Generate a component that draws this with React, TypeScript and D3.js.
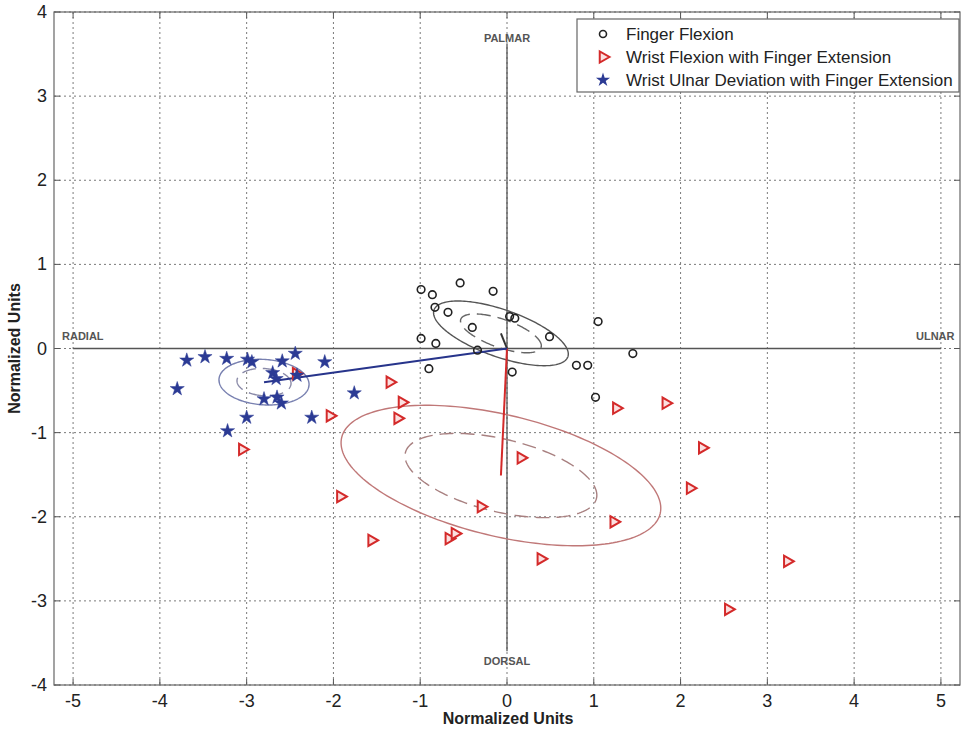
import React, { useEffect, useRef } from 'react';
import * as d3 from 'd3';

// scatter of normalized units, three grasp conditions with mean vectors + confidence ellipses

const fingerFlexion: [number, number][] = [
  [-0.99, 0.70], [-0.86, 0.64], [-0.54, 0.78], [-0.16, 0.68], [-0.83, 0.49],
  [-0.68, 0.43], [-0.40, 0.25], [0.03, 0.38], [0.09, 0.36], [0.49, 0.14],
  [1.05, 0.32], [-0.99, 0.12], [-0.82, 0.06], [-0.34, -0.02], [-0.90, -0.24],
  [0.06, -0.28], [0.80, -0.20], [0.93, -0.20], [1.45, -0.06], [1.02, -0.58]
];

const wristFlexion: [number, number][] = [
  [-3.05, -1.20], [-2.43, -0.30], [-2.04, -0.80], [-1.35, -0.40], [-1.21, -0.64],
  [-1.26, -0.83], [-1.92, -1.76], [-1.56, -2.28], [-0.67, -2.26], [-0.60, -2.20],
  [-0.30, -1.88], [0.16, -1.30], [0.39, -2.50], [1.26, -0.71], [1.83, -0.65],
  [2.25, -1.18], [2.11, -1.66], [1.23, -2.06], [3.23, -2.53], [2.55, -3.10]
];

const wristUlnar: [number, number][] = [
  [-3.69, -0.14], [-3.48, -0.10], [-3.23, -0.12], [-2.99, -0.13], [-2.94, -0.16],
  [-2.59, -0.15], [-2.44, -0.06], [-2.10, -0.16], [-3.80, -0.48], [-2.70, -0.29],
  [-2.66, -0.36], [-2.42, -0.32], [-2.80, -0.60], [-2.65, -0.58], [-2.60, -0.65],
  [-1.76, -0.53], [-3.00, -0.82], [-2.25, -0.82], [-3.22, -0.98]
];

// group means (end of vector from origin)
const groupMeans: [number, number][] = [[-0.07, 0.18], [-0.07, -1.51], [-2.80, -0.40]];
// ellipse: [semi-major, semi-minor, angle deg]
const ellipseAxes: [number, number, number][] = [[0.82, 0.28, -20], [1.89, 0.72, -14], [0.52, 0.27, -4]];
const innerRatio = 0.6;

const groupNames = ['Finger Flexion', 'Wrist Flexion with Finger Extension', 'Wrist Ulnar Deviation with Finger Extension'];
const vectorColors = ['#333333', '#d42a2a', '#27348b'];
const outerColors = ['#555555', '#c07878', '#7880b0'];
const innerColors = ['#666666', '#a88080', '#8a8aa8'];

const xTicks = [-5, -4, -3, -2, -1, 0, 1, 2, 3, 4, 5];
const yTicks = [-4, -3, -2, -1, 0, 1, 2, 3, 4];

const W = 963, H = 734;

export default function App() {
  const ref = useRef<SVGSVGElement>(null);

  useEffect(() => {
    const svg = d3.select(ref.current);
    svg.selectAll('*').remove();

    const left = 54, right = 960, top = 12, bottom = 685;
    const x = d3.scaleLinear().domain([-5.22, 5.22]).range([left, right]);
    const y = d3.scaleLinear().domain([-4, 4]).range([bottom, top]);
    const font = 'Liberation Sans, Arial, sans-serif';
    const narrow = 'Liberation Sans Narrow, Liberation Sans, Arial, sans-serif';

    svg.append('rect').attr('width', W).attr('height', H).attr('fill', '#fff');

    // grid
    const grid = svg.append('g').attr('stroke', '#7a7a7a').attr('stroke-dasharray', '2,3').attr('stroke-width', 1);
    xTicks.forEach((t) => {
      grid.append('line').attr('x1', x(t)).attr('x2', x(t)).attr('y1', top).attr('y2', bottom);
    });
    yTicks.forEach((t) => {
      grid.append('line').attr('x1', left).attr('x2', right).attr('y1', y(t)).attr('y2', y(t));
    });

    // inner ticks
    const ticks = svg.append('g').attr('stroke', '#555').attr('stroke-width', 1);
    xTicks.forEach((t) => {
      ticks.append('line').attr('x1', x(t)).attr('x2', x(t)).attr('y1', bottom).attr('y2', bottom - 6);
      ticks.append('line').attr('x1', x(t)).attr('x2', x(t)).attr('y1', top).attr('y2', top + 6);
    });
    yTicks.forEach((t) => {
      ticks.append('line').attr('x1', left).attr('x2', left + 6).attr('y1', y(t)).attr('y2', y(t));
      ticks.append('line').attr('x1', right).attr('x2', right - 6).attr('y1', y(t)).attr('y2', y(t));
    });

    // main cross axes
    svg.append('line').attr('x1', x(-5)).attr('x2', x(5)).attr('y1', y(0)).attr('y2', y(0))
      .attr('stroke', '#555').attr('stroke-width', 1.3);
    svg.append('line').attr('x1', x(0)).attr('x2', x(0)).attr('y1', y(3.62)).attr('y2', y(-3.6))
      .attr('stroke', '#555').attr('stroke-width', 1.3);

    // ellipses
    const line = d3.line<[number, number]>().x((d) => x(d[0])).y((d) => y(d[1])).curve(d3.curveLinearClosed);
    const ellipsePts = (c: [number, number], a: number, b: number, deg: number) => {
      const th = (deg * Math.PI) / 180;
      return d3.range(0, 2 * Math.PI, Math.PI / 90).map((t) => {
        const u = a * Math.cos(t), v = b * Math.sin(t);
        return [c[0] + u * Math.cos(th) - v * Math.sin(th), c[1] + u * Math.sin(th) + v * Math.cos(th)] as [number, number];
      });
    };
    groupMeans.forEach((m, i) => {
      const [a, b, deg] = ellipseAxes[i];
      svg.append('path').attr('d', line(ellipsePts(m, a, b, deg)))
        .attr('fill', 'none').attr('stroke', outerColors[i]).attr('stroke-width', 1.4);
      svg.append('path').attr('d', line(ellipsePts(m, a * innerRatio, b * innerRatio, deg)))
        .attr('fill', 'none').attr('stroke', innerColors[i]).attr('stroke-width', 1.4)
        .attr('stroke-dasharray', '14,7');
    });

    // mean vectors
    groupMeans.forEach((m, i) => {
      svg.append('line').attr('x1', x(0)).attr('y1', y(0)).attr('x2', x(m[0])).attr('y2', y(m[1]))
        .attr('stroke', vectorColors[i]).attr('stroke-width', 2);
    });

    // markers
    svg.append('g').selectAll('circle').data(fingerFlexion).enter().append('circle')
      .attr('cx', (d) => x(d[0])).attr('cy', (d) => y(d[1])).attr('r', 3.8)
      .attr('fill', 'none').attr('stroke', '#222').attr('stroke-width', 1.6);

    const tri = d3.symbol().type(d3.symbolTriangle).size(55);
    svg.append('g').selectAll('path').data(wristFlexion).enter().append('path')
      .attr('d', tri())
      .attr('transform', (d) => `translate(${x(d[0])},${y(d[1])}) rotate(90)`)
      .attr('fill', '#fbe0e0').attr('stroke', '#d42a2a').attr('stroke-width', 2);

    const star = d3.symbol().type(d3.symbolStar).size(62);
    svg.append('g').selectAll('path').data(wristUlnar).enter().append('path')
      .attr('d', star())
      .attr('transform', (d) => `translate(${x(d[0])},${y(d[1])})`)
      .attr('fill', '#2b3a94').attr('stroke', '#2b3a94').attr('stroke-width', 0.5);

    // frame
    svg.append('rect').attr('x', left).attr('y', top).attr('width', right - left).attr('height', bottom - top)
      .attr('fill', 'none').attr('stroke', '#666').attr('stroke-width', 1.2);

    // direction labels
    const dir = svg.append('g').attr('font-family', narrow).attr('font-weight', 'bold')
      .attr('font-size', 11).attr('fill', '#555');
    dir.append('text').attr('x', x(0)).attr('y', 42).attr('text-anchor', 'middle').text('PALMAR');
    dir.append('text').attr('x', x(0)).attr('y', 665).attr('text-anchor', 'middle').text('DORSAL');
    dir.append('text').attr('x', 62).attr('y', 340).text('RADIAL');
    dir.append('text').attr('x', 916).attr('y', 340).text('ULNAR');

    // tick labels
    const tl = svg.append('g').attr('font-family', narrow).attr('font-size', 18).attr('fill', '#222');
    xTicks.forEach((t) => {
      tl.append('text').attr('x', x(t)).attr('y', 707).attr('text-anchor', 'middle').text(String(t));
    });
    yTicks.forEach((t) => {
      tl.append('text').attr('x', 47).attr('y', y(t) + 6).attr('text-anchor', 'end').text(String(t));
    });

    // axis titles
    svg.append('text').attr('x', 508).attr('y', 724).attr('text-anchor', 'middle')
      .attr('font-family', narrow).attr('font-weight', 'bold').attr('font-size', 16).attr('fill', '#222')
      .text('Normalized Units');
    svg.append('text').attr('transform', `translate(20,${y(0)}) rotate(-90)`).attr('text-anchor', 'middle')
      .attr('font-family', narrow).attr('font-weight', 'bold').attr('font-size', 16).attr('fill', '#222')
      .text('Normalized Units');

    // legend
    const lg = svg.append('g');
    lg.append('rect').attr('x', 577).attr('y', 19).attr('width', 382).attr('height', 73)
      .attr('fill', '#fff').attr('stroke', '#666').attr('stroke-width', 1.2);
    const rows = [34, 57, 80];
    lg.append('circle').attr('cx', 603).attr('cy', rows[0]).attr('r', 3.5)
      .attr('fill', 'none').attr('stroke', '#222').attr('stroke-width', 1.6);
    lg.append('path').attr('d', tri()).attr('transform', `translate(603,${rows[1]}) rotate(90)`)
      .attr('fill', '#fbe0e0').attr('stroke', '#d42a2a').attr('stroke-width', 2);
    lg.append('path').attr('d', star()).attr('transform', `translate(603,${rows[2]})`)
      .attr('fill', '#2b3a94');
    groupNames.forEach((n, i) => {
      lg.append('text').attr('x', 626).attr('y', rows[i] + 6).attr('font-family', font)
        .attr('font-size', 17).attr('fill', '#222').text(n);
    });
  }, []);

  return (
    <svg ref={ref} width={W} height={H} style={{ position: 'absolute', left: 0, top: 0 }} />
  );
}
